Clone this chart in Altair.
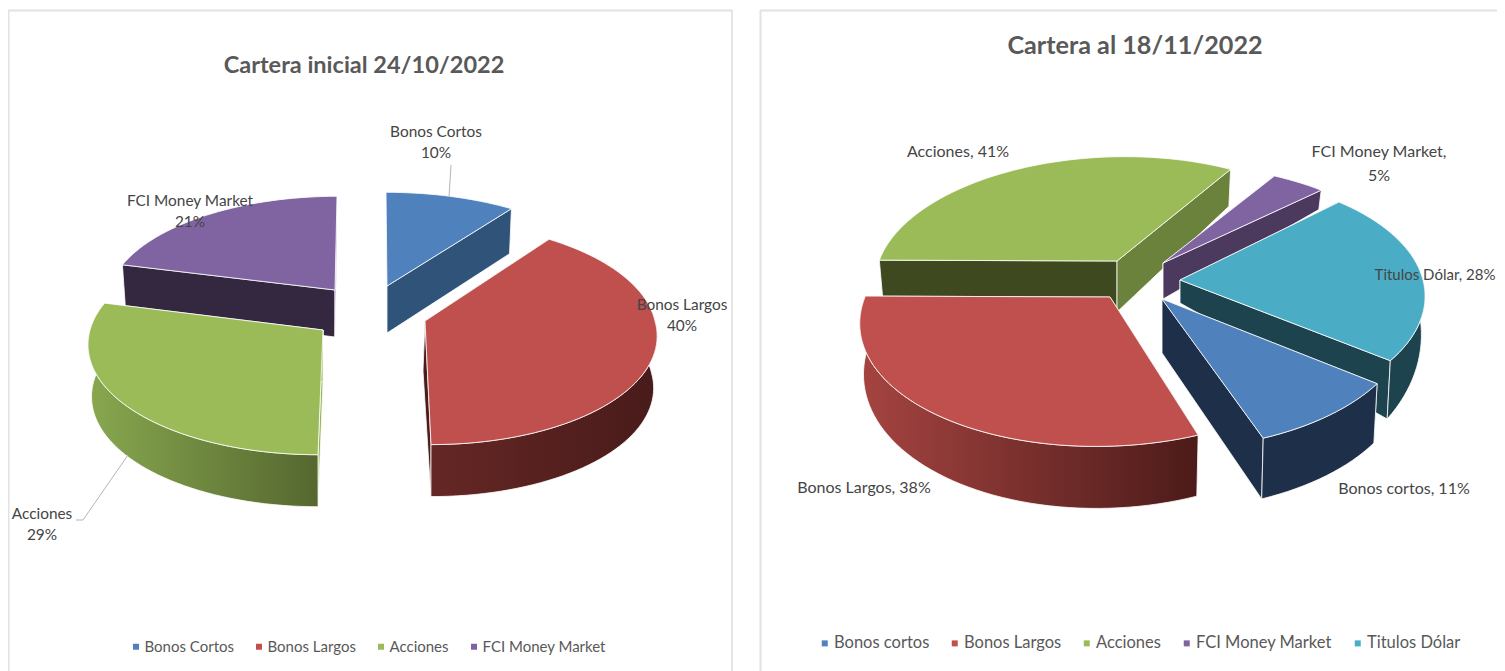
import math
import altair as alt

# ---------- chart values ----------
left_title = "Cartera inicial 24/10/2022"
left_cats = ["Bonos Cortos", "Bonos Largos", "Acciones", "FCI Money Market"]
left_vals = [10, 40, 29, 21]

right_title = "Cartera al 18/11/2022"
right_cats = ["Bonos cortos", "Bonos Largos", "Acciones", "FCI Money Market", "Titulos Dólar"]
right_vals = [11, 38, 41, 5, 28]

colors = ["#4f81bd", "#c0504d", "#9bbb59", "#8064a2", "#4bacc6"]
FONT = "Lato"
OX, OY = 8, 8


def angles(vals, start):
    tot = sum(vals)
    out, a = [], start
    for v in vals:
        b = a + v / tot * 360
        out.append((a, b))
        a = b
    return out


def feature(points, cat=""):
    ring = [[round(x, 2), round(y, 2)] for x, y in points]
    ring.append(ring[0])
    return {"type": "Feature", "properties": {"cat": cat},
            "geometry": {"type": "Polygon", "coordinates": [ring]}}


PROJ = dict(type="identity", scale=1, translate=[0, 0])


def shape(points, fill):
    return (alt.Chart(alt.Data(values=[feature(points)]))
            .mark_geoshape(fill=fill, stroke="#ffffff", strokeWidth=0.8)
            .project(**PROJ))


def wedge(cat, a0, a1, g, domain, rng, legend):
    cx, cy = g["c"]
    cx -= OX
    cy -= OY
    rx, ry, p = g["rx"], g["ry"], g["p"]
    lean, k = g.get("lean", 0), g.get("k", 0.985)
    lean_back = g.get("lean_back", lean)
    d0, d1, dapex = g["d0"], g.get("d1", 0), g["dapex"]

    def top(th):
        r = math.radians(th)
        Y = math.cos(r)
        s = 1 / (1 + p * Y)
        lx = lean_back if Y > 0 else lean
        return (cx + rx * math.sin(r) * s - lx * Y, cy - ry * Y * s)

    def bottom(th):
        x, y = top(th)
        return (cx + (x - cx) * k, y + d0 - d1 * math.cos(math.radians(th)))

    n = max(int((a1 - a0) / 2), 2)
    ths = [a0 + (a1 - a0) * i / n for i in range(n + 1)]
    apex, apexb = (cx, cy), (cx + g.get("adx", 0), cy + dapex)

    out = [
        shape([apex, top(a0), bottom(a0), apexb], g["face0"]),
        shape([apex, top(a1), bottom(a1), apexb], g["face1"]),
    ]
    front = [t for t in ths if math.cos(math.radians(t)) <= 0.25]
    if len(front) >= 2 and g.get("wall"):
        pts = [top(t) for t in front] + [bottom(t) for t in reversed(front)]
        grad = alt.Gradient(gradient="linear", x1=0, x2=1, y1=0, y2=0,
                            stops=[alt.GradientStop(color=g["wall"][0], offset=0),
                                   alt.GradientStop(color=g["wall"][1], offset=1)])
        out.append(shape(pts, grad))
    out.append(
        alt.Chart(alt.Data(values=[feature([apex] + [top(t) for t in ths], cat)]))
        .mark_geoshape(stroke="#ffffff", strokeWidth=0.8)
        .encode(color=alt.Color("properties.cat:N",
                                scale=alt.Scale(domain=domain, range=rng),
                                legend=legend))
        .project(**PROJ)
    )
    return out


def text(px, py, s, size=15.4, color="#454545", weight="normal", lh=21):
    return (alt.Chart(alt.Data(values=[{"t": s}]))
            .mark_text(font=FONT, fontSize=size, color=color, fontWeight=weight,
                       lineBreak="\n", lineHeight=lh, align="center", baseline="middle")
            .encode(x=alt.value(px - OX), y=alt.value(py - OY), text="t:N"))


def seg(x1, y1, x2, y2, color="#b5b5b5", w=1.0):
    return (alt.Chart(alt.Data(values=[{}]))
            .mark_rule(color=color, strokeWidth=w)
            .encode(x=alt.value(x1 - OX), x2=alt.value(x2 - OX),
                    y=alt.value(y1 - OY), y2=alt.value(y2 - OY)))


def legend_for(x, y, pad, size, offset):
    return alt.Legend(title=None, orient="none", legendX=x, legendY=y, direction="horizontal",
                      symbolType="square", symbolSize=36, symbolStrokeWidth=0,
                      labelFont=FONT, labelFontSize=size, labelColor="#595959",
                      labelOffset=offset, columnPadding=pad, columns=5)


# ---------- left pie ----------
left_geo = {
    "Bonos Cortos": dict(c=(387, 286), rx=232, ry=104, p=0.11, lean=1, d0=45, dapex=47,
                         face0="#4f81bd", face1="#305379", wall=("#305379", "#305379")),
    "Bonos Largos": dict(c=(425, 321), rx=230, ry=110, p=0.11, lean=6, lean_back=0, d0=52, dapex=50, adx=-2,
                         face0="#4a1c1b", face1="#4a1c1b", wall=("#652725", "#481b1a")),
    "Acciones": dict(c=(323, 330), rx=233, ry=111, p=0.11, lean=-5, d0=52, dapex=52,
                     face0="#93b254", face1="#9bbb59", wall=("#88a84f", "#55672f")),
    "FCI Money Market": dict(c=(335, 290), rx=226, ry=104, p=0.11, lean=-2, d0=46, dapex=47,
                             face0="#33283f", face1="#8064a2", wall=("#33283f", "#33283f")),
}
left_order = ["Bonos Cortos", "FCI Money Market", "Bonos Largos", "Acciones"]
la = dict(zip(left_cats, angles(left_vals, 0)))
leg1 = legend_for(120.5, 631, 17, 15, 1)

layers1 = [seg(8, 10.5, 732, 10.5, "#e2e2e2", 2),
           seg(8.5, 10, 8.5, 671, "#e2e2e2", 2),
           seg(732, 10, 732, 671, "#dcdcdc", 1.5)]
for c in left_order:
    layers1 += wedge(c, *la[c], left_geo[c], left_cats, colors[:4], leg1)
lv = dict(zip(left_cats, left_vals))
layers1 += [
    seg(451, 165, 449, 197),
    seg(76, 520, 83, 520),
    seg(83, 520, 128, 455),
    text(364, 66, left_title, 23.5, "#595959", "bold"),
    text(436, 132, f"Bonos Cortos\n{lv['Bonos Cortos']}%"),
    text(190, 201, f"FCI Money Market\n{lv['FCI Money Market']}%"),
    text(682, 305, f"Bonos Largos\n{lv['Bonos Largos']}%"),
    text(42, 514, f"Acciones\n{lv['Acciones']}%"),
]

# ---------- right pie ----------
right_geo = {
    "Bonos cortos": dict(c=(1162, 299), rx=245, ry=128, p=0.15, d0=57, d1=4, dapex=54,
                         face0="#1e3049", face1="#1e3049", wall=("#1e3049", "#1e3049")),
    "Bonos Largos": dict(c=(1110, 297), rx=245, ry=127, p=0.15, lean=-14, d0=48, d1=14, dapex=50,
                         face0="#4f1c1a", face1="#a34340", wall=("#a54441", "#4c1b19")),
    "Acciones": dict(c=(1117, 261), rx=238, ry=120, p=0.15, lean=-8, d0=40, d1=3.5, dapex=51,
                     face0="#3f4920", face1="#6a823c"),
    "FCI Money Market": dict(c=(1163, 263), rx=245, ry=114, p=0.15, lean=-2, d0=30, d1=15, dapex=36,
                             face0="#4b3a5e", face1="#4b3a5e"),
    "Titulos Dólar": dict(c=(1180, 280), rx=243, ry=122, p=0.15, lean=-5, d0=33, d1=42, dapex=23,
                          face0="#1d434e", face1="#1d434e", wall=("#1d434e", "#1d434e")),
}
right_order = ["Acciones", "FCI Money Market", "Titulos Dólar", "Bonos cortos", "Bonos Largos"]
ra = dict(zip(right_cats, angles(right_vals, 127)))
leg2 = legend_for(808.5, 627, 17, 16.5, 1)

layers2 = [seg(760, 10.5, 1505, 10.5, "#e2e2e2", 2),
           seg(760.5, 10, 760.5, 671, "#e2e2e2", 2)]
for c in right_order:
    layers2 += wedge(c, *ra[c], right_geo[c], right_cats, colors, leg2)
rv = dict(zip(right_cats, right_vals))
layers2 += [
    text(1135, 46, right_title, 25.2, "#595959", "bold"),
    text(958, 152, f"Acciones, {rv['Acciones']}%", 16),
    text(1379, 152, f"FCI Money Market,\n{rv['FCI Money Market']}%", 16, lh=24),
    text(1435, 275, f"Titulos Dólar, {rv['Titulos Dólar']}%", 15),
    text(1404, 489, f"Bonos cortos, {rv['Bonos cortos']}%", 16),
    text(864, 488, f"Bonos Largos, {rv['Bonos Largos']}%", 16),
]

chart = (alt.layer(alt.layer(*layers1), alt.layer(*layers2))
         .resolve_scale(color="independent")
         .properties(width=1489, height=663, padding=0, background="#ffffff",
                     autosize=alt.AutoSizeParams(type="none"))
         .configure_view(stroke=None))
chart.save("out.html", embed_options={"renderer": "svg", "actions": False})
